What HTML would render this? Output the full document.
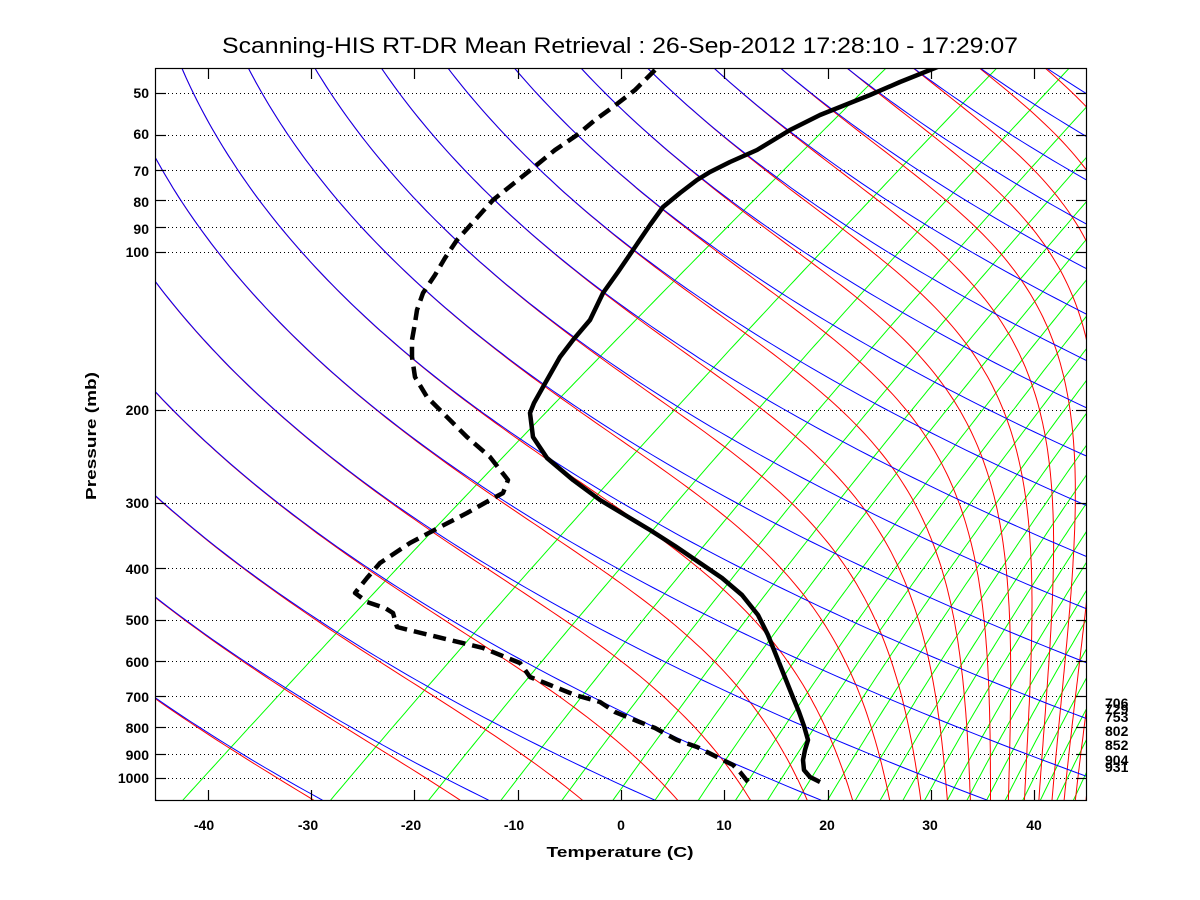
<!DOCTYPE html>
<html><head><meta charset="utf-8">
<style>
html,body{margin:0;padding:0;background:#fff;}
svg{display:block;}
text{font-family:"Liberation Sans",Arial,sans-serif;fill:#000;}
</style></head>
<body>
<svg id="s" width="1200" height="900" viewBox="0 0 1200 900" xmlns="http://www.w3.org/2000/svg">
<defs><clipPath id="cp"><rect x="156" y="69" width="930" height="731"/></clipPath></defs>
<rect width="1200" height="900" fill="#fff"/>
<g id="grid"></g>
<g id="lines" clip-path="url(#cp)" fill="none" stroke-width="1"></g>
<g id="prof" clip-path="url(#cp)" fill="none" stroke="#000" stroke-width="4.5" stroke-linejoin="round"></g>
<rect x="155.5" y="68.5" width="931" height="732" fill="none" stroke="#000" stroke-width="1.2"/>
<g id="ticks" stroke="#000" stroke-width="1.2"></g>
<text x="620" y="53" font-size="22" text-anchor="middle" textLength="796" lengthAdjust="spacingAndGlyphs">Scanning-HIS RT-DR Mean Retrieval : 26-Sep-2012 17:28:10 - 17:29:07</text>
<text x="620" y="857" font-size="15" font-weight="bold" text-anchor="middle" textLength="147" lengthAdjust="spacingAndGlyphs">Temperature (C)</text>
<text transform="translate(96,436) rotate(-90)" font-size="15" font-weight="bold" text-anchor="middle" textLength="128" lengthAdjust="spacingAndGlyphs">Pressure (mb)</text>
<g font-size="14" font-weight="bold" text-anchor="end">
<text x="149" y="98">50</text>
<text x="149" y="139">60</text>
<text x="149" y="176">70</text>
<text x="149" y="207">80</text>
<text x="149" y="234">90</text>
<text x="149" y="257">100</text>
<text x="149" y="415">200</text>
<text x="149" y="508">300</text>
<text x="149" y="574">400</text>
<text x="149" y="625">500</text>
<text x="149" y="667">600</text>
<text x="149" y="702">700</text>
<text x="149" y="733">800</text>
<text x="149" y="760">900</text>
<text x="149" y="783">1000</text>
</g>
<g font-size="14" font-weight="bold" text-anchor="middle">
<text x="204" y="830">-40</text>
<text x="308" y="830">-30</text>
<text x="411" y="830">-20</text>
<text x="514" y="830">-10</text>
<text x="621" y="830">0</text>
<text x="724" y="830">10</text>
<text x="827" y="830">20</text>
<text x="930" y="830">30</text>
<text x="1034" y="830">40</text>
</g>
<g font-size="14" font-weight="bold">
<text x="1105" y="708">706</text>
<text x="1105" y="714">729</text>
<text x="1105" y="722">753</text>
<text x="1105" y="736">802</text>
<text x="1105" y="750">852</text>
<text x="1105" y="765">904</text>
<text x="1105" y="772">931</text>
</g>
</svg>
<script>
(function(){
var NS="http://www.w3.org/2000/svg";
function Y(p){return 778-526.5*Math.log10(1000/p);}
var K=1.33;
function X(Tc,y){return 620.9+10.33*Tc+K*(800-y);}
function add(g,tag,attrs){var e=document.createElementNS(NS,tag);for(var k in attrs)e.setAttribute(k,attrs[k]);document.getElementById(g).appendChild(e);return e;}
var ps=[50,60,70,80,90,100,200,300,400,500,600,700,800,900,1000];
ps.forEach(function(p){var y=Math.round(Y(p))+0.5;
 add("grid","line",{x1:156,x2:1086,y1:y,y2:y,stroke:"#000","stroke-width":1,"stroke-dasharray":"1,3"});
 add("ticks","line",{x1:156,x2:166,y1:y,y2:y});
 add("ticks","line",{x1:1076,x2:1086,y1:y,y2:y});
});
for(var t=-40;t<=40;t+=10){var x=Math.round(207.7+10.33*(t+40))+0.5;
 add("ticks","line",{x1:x,x2:x,y1:790,y2:800});
 add("ticks","line",{x1:x,x2:x,y1:69,y2:79});}
var pTop=44,pBot=1102,N=160;
function pts(fn){var a=[];for(var i=0;i<=N;i++){var lp=Math.log(pBot)+(Math.log(pTop)-Math.log(pBot))*i/N;var p=Math.exp(lp);var y=Y(p);a.push(fn(p,lp,i).toFixed(1)+","+y.toFixed(1));}return a.join(" ");}
function es(Tk){var c=Tk-273.15;return 6.112*Math.exp(17.67*c/(c+243.5));}
var tds=[-42.4,-28.1,-18.6,-11.6,-5.7,-0.76,3.3,7.5,11.1,14.2,17.1,20.0,22.7,25.1,27.3,29.4,31.6,33.5,35.4,37.2,38.9,40.6,42.2,43.8];
tds.forEach(function(td){var e0=es(td+273.15);var w=0.622*e0/(1100-e0);
 add("lines","polyline",{points:pts(function(p){var e=w*p/(0.622+w);var L=Math.log(e/6.112);var Td=243.5*L/(17.67-L);return X(Td,Y(p));}),stroke:"#00ff00"});});
function dT(T,lp){var p=Math.exp(lp);var e=es(T);var rs=0.622*e/Math.max(p-e,1);var Rd=287,cp=1004,Lv=2.5e6;return (Rd*T+Lv*rs)/(cp+Lv*Lv*rs*0.622/(Rd*T*T));}
for(var n=-7;n<=24;n++){(function(n){var th=237.6+15.65*n;
 var l0=Math.log(pTop),l1=Math.log(pBot);var T=th*Math.pow(pTop/1000,0.286);var h=(l1-l0)/N;var lp=l0;var a=[];
 for(var i=0;i<=N;i++){var p=Math.exp(lp);var y=Y(p);a.push(X(T-273.15,y).toFixed(1)+","+y.toFixed(1));
  var k1=dT(T,lp);var k2=dT(T+h*k1,lp+h);T+=h*(k1+k2)/2;lp+=h;}
 add("lines","polyline",{points:a.join(" "),stroke:"#ff0000"});})(n);}
for(var n=-7;n<=24;n++){var th=237.6+15.65*n;
 add("lines","polyline",{points:pts(function(p){var T=th*Math.pow(p/1000,0.286)-273.15;return X(T,Y(p));}),stroke:"#0000ff"});}
var tp=[[940,66],[900,82],[870,95],[820,115],[790,130],[757,150],[730,162],[710,172],[697,180],[680,193],[663,207],[650,225],[633,250],[618,272],[603,293],[590,320],[573,340],[560,357],[543,387],[534,403],[530,413],[533,437],[547,458],[573,480],[600,500],[625,515],[650,530],[675,546],[700,563],[722,578],[742,595],[758,615],[768,635],[776,655],[784,675],[792,695],[799,712],[804,726],[808,740],[805,750],[803,760],[804,770],[810,777],[820,782]];
add("prof","polyline",{points:tp.map(function(q){return q.join(",");}).join(" ")});
var dp=[[655,70],[635,90],[613,107],[595,120],[577,135],[555,150],[533,168],[513,184],[493,200],[475,220],[457,240],[445,258],[435,275],[423,293],[417,310],[415,323],[412,340],[412,357],[415,377],[427,397],[443,413],[467,437],[490,457],[508,480],[503,493],[490,500],[467,513],[440,527],[410,543],[380,563],[367,578],[355,593],[367,602],[385,608],[393,613],[397,627],[417,632],[450,640],[483,648],[505,657],[520,663],[530,677],[550,685],[575,695],[600,702],[615,712],[632,719],[655,728],[677,740],[697,747],[717,757],[733,765],[740,772],[748,782]];
add("prof","polyline",{points:dp.map(function(q){return q.join(",");}).join(" "),"stroke-dasharray":"13,7"});
})();
</script>
</body></html>
